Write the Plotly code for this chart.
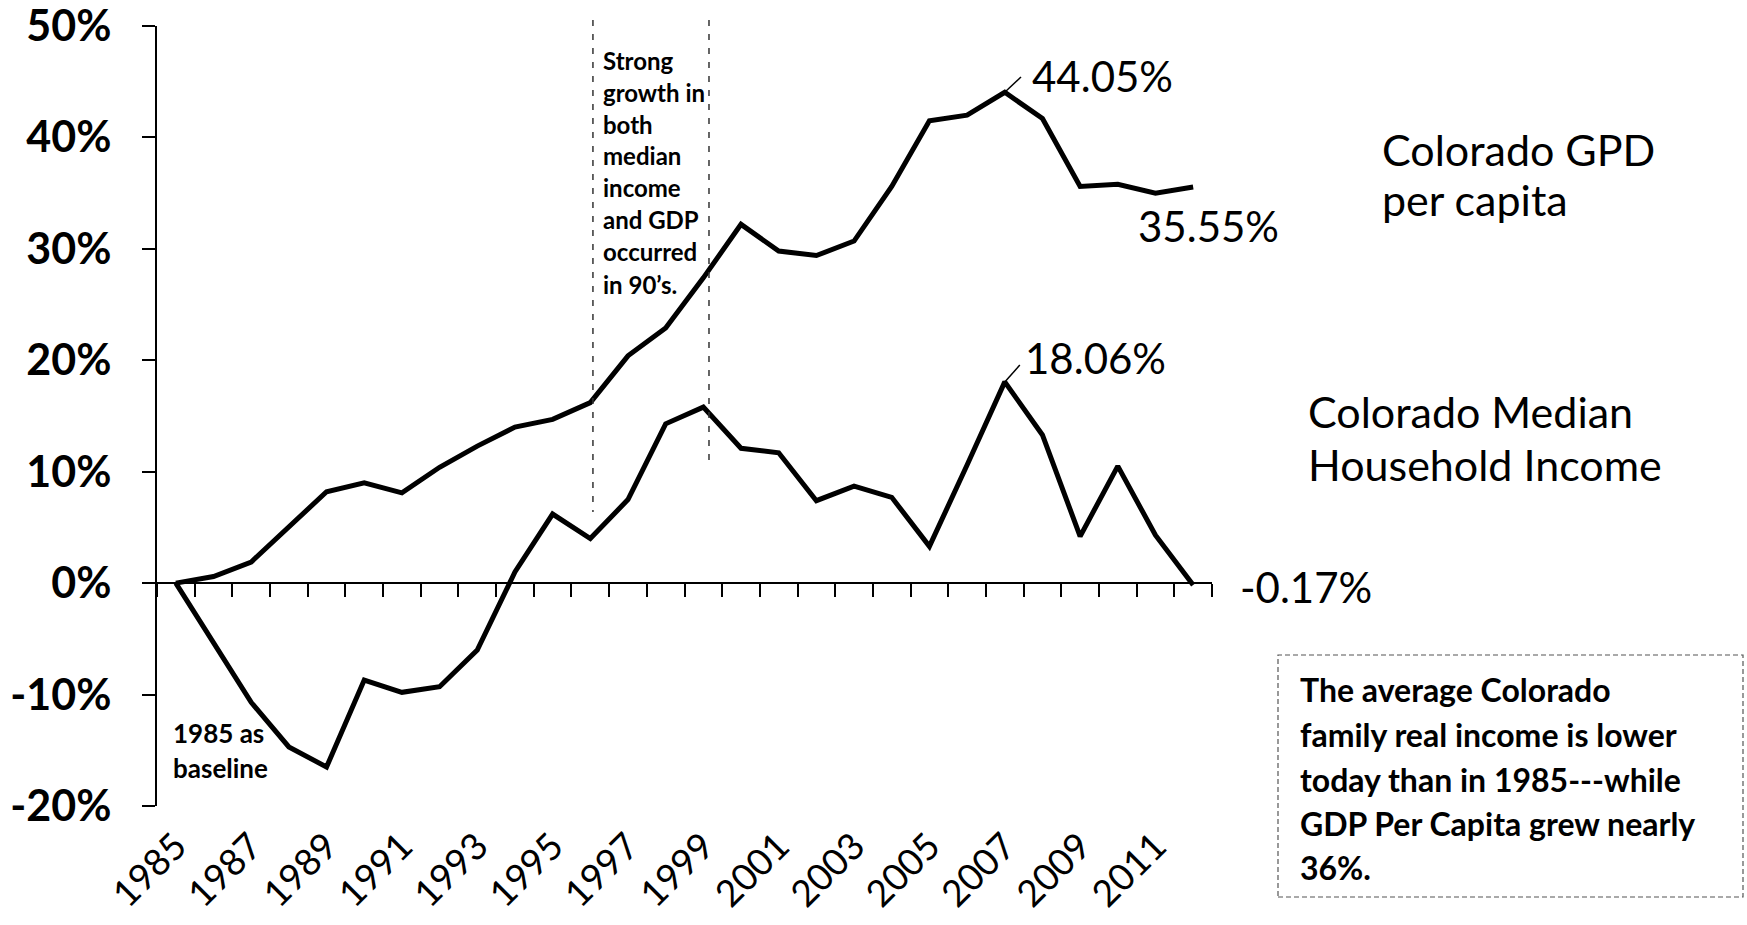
import plotly.graph_objects as go

# ---------------- data ----------------
years = list(range(1985, 2013))
gdp_per_capita_pct = [0, 0.6, 1.9, 5.0, 8.2, 9.0, 8.1, 10.4, 12.3, 14.0, 14.7, 16.2,
                      20.4, 22.9, 27.4, 32.2, 29.8, 29.4, 30.7, 35.6, 41.5, 42.0,
                      44.05, 41.7, 35.6, 35.8, 35.0, 35.55]
median_income_pct = [0, -5.3, -10.7, -14.7, -16.5, -8.7, -9.8, -9.3, -6.0, 1.0, 6.2, 4.0,
                     7.5, 14.3, 15.8, 12.1, 11.7, 7.4, 8.7, 7.7, 3.3, 10.6,
                     18.06, 13.3, 4.2, 10.5, 4.3, -0.17]
label_years = list(range(1985, 2012, 2))
y_ticks = [-20, -10, 0, 10, 20, 30, 40, 50]
y_tick_text = ["-20%", "-10%", "0%", "10%", "20%", "30%", "40%", "50%"]

# ---------------- layout geometry (pixels) ----------------
W, H = 1747, 925
L, R, T, B = 157, 1212, 26, 806
PW, PH = R - L, B - T
FONT = "Lato"


def px(xp):
    return (xp - L) / PW


def py(yp):
    return (B - yp) / PH


fig = go.Figure()
fig.add_trace(go.Scatter(x=years, y=gdp_per_capita_pct, mode="lines",
                         line=dict(color="black", width=5), showlegend=False,
                         name="Colorado GDP per capita"))
fig.add_trace(go.Scatter(x=years, y=median_income_pct, mode="lines",
                         line=dict(color="black", width=5), showlegend=False,
                         name="Colorado Median Household Income"))
# invisible helper trace for the label axis
fig.add_trace(go.Scatter(x=[years[0]], y=[0], xaxis="x2", mode="markers",
                         marker=dict(opacity=0), hoverinfo="skip", showlegend=False))

boundaries = [y + 0.5 for y in range(1984, 2013)]
xr = [1984.5, 2012.5]

fig.update_layout(
    width=W, height=H,
    margin=dict(l=L, r=W - R, t=T, b=H - B, autoexpand=False),
    paper_bgcolor="white", plot_bgcolor="white",
    xaxis=dict(range=xr, anchor="free", position=20 / 70, showline=True,
               linecolor="black", linewidth=2, ticks="outside", ticklen=13,
               tickwidth=2, tickcolor="black", tickvals=boundaries,
               showticklabels=False, showgrid=False, zeroline=False,
               automargin=False),
    xaxis2=dict(range=xr, overlaying="x", anchor="y", side="bottom",
                showline=False, ticks="", tickvals=label_years,
                ticktext=[str(y) for y in label_years], tickangle=-45,
                ticklabelstandoff=10, ticklabeloverflow="allow",
                tickfont=dict(family=FONT, size=37, color="black"),
                showgrid=False, zeroline=False, automargin=False),
    yaxis=dict(range=[-20, 50], domain=[0, 1], showline=True, linecolor="black",
               linewidth=2, ticks="outside", ticklen=13, tickwidth=2,
               tickcolor="black", tickvals=y_ticks, ticktext=y_tick_text,
               ticklabelstandoff=22, ticklabeloverflow="allow",
               tickfont=dict(family=FONT, size=43, color="black", weight="bold"),
               showgrid=False, zeroline=False, automargin=False),
)


def add_lines(lines, x_left, centers, size, bold=False):
    for txt, cy in zip(lines, centers):
        fig.add_annotation(text=txt, xref="paper", yref="paper", x=px(x_left), y=py(cy),
                           xanchor="left", yanchor="middle", showarrow=False,
                           font=dict(family=FONT, size=size, color="black",
                                     weight="bold" if bold else "normal"))


# value labels
add_lines(["44.05%"], 1030, [76], 42)
add_lines(["35.55%"], 1136, [226], 42)
add_lines(["18.06%"], 1023, [358], 42)
add_lines(["-0.17%"], 1238, [587], 42)

# series labels
add_lines(["Colorado GPD", "per capita"], 1380, [149, 199], 43)
add_lines(["Colorado Median", "Household Income"], 1306, [411, 464], 43)

# explanatory notes
add_lines(["Strong", "growth in", "both", "median", "income", "and GDP", "occurred", "in 90\u2019s."],
          601, [61, 92.5, 124, 156, 187, 219.5, 252, 284], 24, bold=True)
add_lines(["1985 as", "baseline"], 171, [733, 768], 26, bold=True)
add_lines(["The average Colorado", "family real income is lower", "today than in 1985---while",
           "GDP Per Capita grew nearly", "36%."],
          1298, [689, 734, 779, 824, 867], 32, bold=True)

# leader lines for peak labels
fig.add_shape(type="line", xref="x", yref="y", x0=2007, y0=44.05, x1=2007.43, y1=45.42,
              line=dict(color="black", width=1.5))
fig.add_shape(type="line", xref="x", yref="y", x0=2007, y0=18.06, x1=2007.40, y1=19.58,
              line=dict(color="black", width=1.5))

# dashed vertical lines bracketing the 90's
fig.add_shape(type="line", xref="x", yref="paper", x0=1996.07, x1=1996.07, y0=py(20), y1=py(512),
              line=dict(color="#333", width=1.5, dash="6px,8px"))
fig.add_shape(type="line", xref="x", yref="paper", x0=1999.15, x1=1999.15, y0=py(20), y1=py(468),
              line=dict(color="#333", width=1.5, dash="6px,8px"))

# dashed text box
fig.add_shape(type="rect", xref="paper", yref="paper", x0=px(1278), x1=px(1743),
              y0=py(897), y1=py(655), line=dict(color="#555", width=1.2, dash="5px,3px"),
              fillcolor="rgba(0,0,0,0)")

fig.write_html("out.html", config={"displayModeBar": False},
               post_script="document.body.style.margin='0';document.body.style.overflow='hidden';")
